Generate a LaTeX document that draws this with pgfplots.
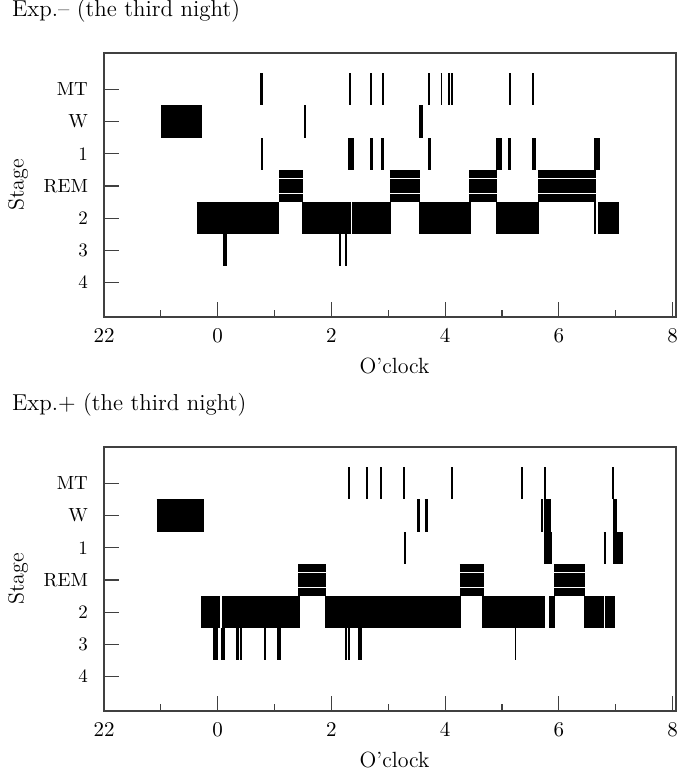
\documentclass[border=0pt]{standalone}
\usepackage{pgfplots}
\usepackage{pgfplotstable}
\pgfplotsset{compat=1.18}

% stage codes: MT=0, W=1, 1=2, REM=3, 2=4, 3=5, 4=6 ; a,b = start/end (hours after midnight)
\pgfplotstableread{
a b s
-0.99 -0.28 1
-0.37 1.08 4
1.49 2.34 4
2.36 3.05 4
3.545 4.45 4
4.895 5.65 4
6.62 6.655 4
6.695 7.06 4
0.09 0.155 5
2.13 2.16 5
2.24 2.27 5
0.745 0.795 0
2.315 2.35 0
2.68 2.71 0
2.895 2.93 0
3.705 3.73 0
3.92 3.95 0
4.055 4.085 0
4.10 4.135 0
5.12 5.15 0
5.53 5.565 0
1.52 1.55 1
3.545 3.605 1
0.77 0.80 2
2.30 2.40 2
2.68 2.73 2
2.87 2.925 2
3.705 3.745 2
4.895 5.00 2
5.105 5.16 2
5.53 5.59 2
6.62 6.72 2
}\minusepochs

\pgfplotstableread{
a b s
1.08 1.50 3
3.03 3.56 3
4.42 4.91 3
5.63 6.65 3
}\minusrem

\pgfplotstableread{
a b s
-1.073 -0.246 1
-0.288 0.04 4
0.076 1.448 4
1.89 4.28 4
4.645 5.76 4
5.83 5.94 4
6.44 6.79 4
6.81 6.98 4
-0.077 0.005 5
0.058 0.12 5
0.32 0.375 5
0.39 0.43 5
0.815 0.85 5
1.05 1.12 5
2.24 2.28 5
2.30 2.33 5
2.475 2.54 5
5.22 5.25 5
2.30 2.335 0
2.60 2.635 0
2.855 2.89 0
3.265 3.30 0
4.10 4.135 0
5.335 5.37 0
5.74 5.775 0
6.935 6.97 0
3.505 3.565 1
3.64 3.70 1
5.69 5.715 1
5.735 5.86 1
6.955 7.02 1
3.275 3.31 2
5.74 5.875 2
6.785 6.835 2
6.95 7.13 2
}\plusepochs

\pgfplotstableread{
a b s
1.418 1.91 3
4.26 4.68 3
5.92 6.46 3
}\plusrem

\pgfplotsset{
  hypno/.style={
    scale only axis, width=286pt, height=132pt,
    anchor=south west,
    xmin=-2, xmax=8.06, ymin=-1.13, ymax=7.07, y dir=reverse,
    xtick={-2,0,2,4,6,8}, xticklabels={22,0,2,4,6,8},
    minor xtick={-1,1,3,5,7},
    ytick={0,...,6}, yticklabels={MT,W,1,REM,2,3,4},
    xtick pos=left, ytick pos=left, tick align=inside,
    major tick length=7.7pt, minor tick length=3.7pt,
    axis line style={black!75, line width=0.55pt},
    tick style={black!75, line width=0.55pt},
    tick label style={font=\fontsize{10.5}{12}\selectfont},
    yticklabel style={font=\fontsize{9.5}{11}\selectfont, xshift=-4.5pt},
    xticklabel style={yshift=-2pt},
    xlabel={O'clock}, ylabel={Stage},
    label style={font=\fontsize{11}{13}\selectfont},
    xlabel style={at={(axis description cs:0.508,-0.1856)}, anchor=center},
    ylabel style={at={(axis description cs:-0.150,0.5)}, anchor=center},
    title style={at={(axis description cs:-0.1614,1.0936)}, anchor=base west,
      inner sep=0pt, font=\fontsize{11.5}{13}\selectfont},
  },
  band/.style={black, line width=16.1pt, line cap=butt,
    quiver={u=\thisrow{b}-\thisrow{a}, v=0}},
  remline/.style={white, line width=0.7pt, line cap=butt,
    quiver={u=\thisrow{b}-\thisrow{a}, v=0}},
}

\begin{document}
\begin{tikzpicture}
\path[use as bounding box] (-52pt,-29pt) rectangle (287pt,355.5pt);

\begin{axis}[hypno, at={(0,197pt)}, title={Exp.--\ (the third night)}]
  \addplot[band] table[x=a, y=s] {\minusrem};
  \addplot[band] table[x=a, y=s] {\minusepochs};
  \addplot[remline] table[x=a, y expr=\thisrow{s}-0.24] {\minusrem};
  \addplot[remline] table[x=a, y expr=\thisrow{s}+0.24] {\minusrem};
\end{axis}

\begin{axis}[hypno, at={(0,0)}, title={Exp.+ (the third night)}]
  \addplot[band] table[x=a, y=s] {\plusrem};
  \addplot[band] table[x=a, y=s] {\plusepochs};
  \addplot[remline] table[x=a, y expr=\thisrow{s}-0.24] {\plusrem};
  \addplot[remline] table[x=a, y expr=\thisrow{s}+0.24] {\plusrem};
\end{axis}
\end{tikzpicture}
\end{document}
